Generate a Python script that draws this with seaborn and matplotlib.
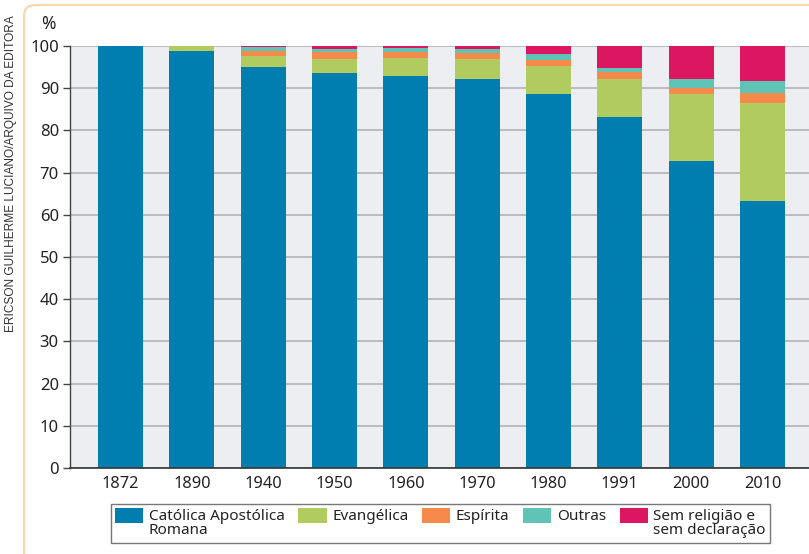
import matplotlib
matplotlib.use("Agg")
import matplotlib.pyplot as plt
import matplotlib.transforms as mtransforms
from matplotlib.patches import FancyBboxPatch, Patch
import seaborn as sns
import pandas as pd
import numpy as np

# Data
years = ['1872', '1890', '1940', '1950', '1960', '1970', '1980', '1991', '2000', '2010']
catolica = [100.0, 98.9, 95.1, 93.6, 92.9, 92.2, 88.6, 83.2, 72.7, 63.3]
evangelica = [0.0, 1.1, 2.6, 3.3, 4.3, 4.7, 6.7, 9.0, 15.9, 23.2]
espirita = [0.0, 0.0, 1.1, 1.7, 1.4, 1.4, 1.5, 1.6, 1.4, 2.4]
outras = [0.0, 0.0, 0.9, 0.7, 0.9, 1.0, 1.3, 1.0, 2.2, 2.8]
sem_religiao = [0.0, 0.0, 0.3, 0.7, 0.5, 0.7, 1.9, 5.2, 7.8, 8.3]

labels = ['Católica Apostólica\nRomana', 'Evangélica', 'Espírita', 'Outras',
          'Sem religião e\nsem declaração']
colors = ['#007eb0', '#b1cc5e', '#f58a4b', '#5fc4b5', '#dc1660']

df = pd.DataFrame({'ano': years, 'cat': catolica, 'eva': evangelica,
                   'esp': espirita, 'out': outras, 'sem': sem_religiao})
layers = ['cat', 'eva', 'esp', 'out', 'sem']
cum = df[layers].cumsum(axis=1)

sns.set_style("white")
plt.rcParams['font.family'] = ['Noto Sans', 'DejaVu Sans']

fig = plt.figure(figsize=(8.09, 5.54), dpi=100)
ax = fig.add_axes([70 / 809, 1 - 468 / 554, 739 / 809, 422 / 554])
ax.set_facecolor('#edeef2')

# stacked bars: draw cumulative totals from the top layer down
for key, col in reversed(list(zip(layers, colors))):
    sns.barplot(x=df['ano'], y=cum[key], color=col, saturation=1, width=0.63,
                ax=ax, linewidth=0, order=years)

ax.set_xlim(-0.708, 9.652)
ax.set_ylim(0, 100)
ax.set_yticks(np.arange(0, 101, 10))
ax.yaxis.grid(True, color='#b3b3b7', linewidth=1.2)
ax.set_axisbelow(True)
ax.set_xlabel('')
ax.set_ylabel('')
for s in ['top', 'right']:
    ax.spines[s].set_visible(False)
ax.spines['left'].set_color('#444444')
ax.spines['bottom'].set_color('#333333')
ax.spines['left'].set_linewidth(1.0)
ax.spines['bottom'].set_linewidth(1.2)
ax.tick_params(axis='y', length=5, width=1, color='#444444', pad=3,
               labelsize=12, labelcolor='#222222', left=True)
ax.tick_params(axis='x', length=0, pad=6, labelsize=11.8, labelcolor='#222222')

fig.text(48 / 809, 1 - 24 / 554, '%', fontsize=12.5, fontweight='bold',
         color='#222222', ha='center', va='center')

# legend
handles = [Patch(facecolor=c, edgecolor='none') for c in colors]
leg = fig.legend(handles, labels, ncol=5, loc='center',
                 bbox_to_anchor=(440.5 / 809, 1 - 523.5 / 554),
                 fontsize=11.0, frameon=True, fancybox=False,
                 handlelength=1.85, handleheight=1.1, handletextpad=0.35,
                 columnspacing=0.9, borderpad=0.3, labelspacing=0.2)
leg.get_frame().set_edgecolor('#555555')
leg.get_frame().set_linewidth(1.0)
for t in leg.get_texts():
    t.set_color('#222222')
    t.set_linespacing(1.0)
# align handles and single-line labels with the first text line
leg._legend_handle_box.align = 'top'
for col in leg._legend_handle_box.get_children():
    col.align = 'left'
    for item in col.get_children():
        item.align = 'top'

# outer decorative frame (top and left edges visible)
frame = FancyBboxPatch((24, -60), 900, 549 + 60, boxstyle='round,pad=0,rounding_size=11',
                       transform=mtransforms.IdentityTransform(), fill=False,
                       edgecolor='#fdd5ab', linewidth=1.6, clip_on=False)
fig.patches.append(frame)

fig.text(11 / 809, 1 - 173.5 / 554, 'ERICSON GUILHERME LUCIANO/ARQUIVO DA EDITORA',
         rotation=90, fontsize=8.6, family=['Liberation Sans', 'DejaVu Sans'],
         color='#333333', ha='center', va='center')

fig.savefig('out.png', dpi=100)
